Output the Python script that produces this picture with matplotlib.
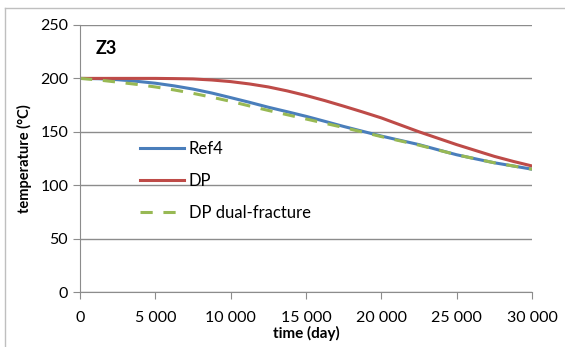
import numpy as np
import matplotlib as mpl
import matplotlib.pyplot as plt
from matplotlib.lines import Line2D
from matplotlib.ticker import FuncFormatter

mpl.rc('font', family=['Lato', 'DejaVu Sans'])

# time (day)
days = [0, 1250, 2500, 3750, 5000, 6250, 7500, 8750, 10000, 11250, 12500, 13750, 15000,
        16250, 17500, 18750, 20000, 21250, 22500, 23750, 25000, 26250, 27500, 28750, 30000]
# temperature (°C)
ref4 = [200, 199.7, 198.8, 197.3, 195.5, 193, 190, 186.3, 182, 177.6, 173, 168.8, 164.5,
        159.8, 155, 150.5, 146, 142, 138, 133.2, 128.5, 124.7, 121, 118, 115]
dp = [200, 200, 200, 200, 200, 199.8, 199.5, 198.5, 197, 194.8, 192, 188.3, 184,
      179.2, 174, 168.6, 163, 156.5, 150, 144, 138, 132.5, 127, 122.3, 118]
dp_dual = [200, 198.5, 196.5, 194.4, 192, 189.2, 186, 182.4, 178.5, 174.2, 170, 166, 162,
           158, 154, 149.8, 145.5, 141.5, 137.5, 133, 128.5, 124.7, 121, 118, 115]

fig = plt.figure(figsize=(5.65, 3.47), dpi=100)
ax = fig.add_axes([80 / 565, 55 / 347, 452 / 565, 267 / 347])

ax.plot(days, ref4, color='#4a7ebb', lw=2.2, label='Ref4')
ax.plot(days, dp, color='#be4b48', lw=2.2, label='DP')
ax.plot(days, dp_dual, color='#98b954', lw=2.2, ls=(0, (4, 3.5)), label='DP dual-fracture')

ax.set_xlim(0, 30000)
ax.set_ylim(0, 250)
ax.set_xticks(np.arange(0, 30001, 5000))
ax.set_yticks(np.arange(0, 251, 50))
ax.xaxis.set_major_formatter(FuncFormatter(lambda v, p: f'{int(v):,}'.replace(',', ' ')))

ax.yaxis.grid(True, color='#8c8c8c', lw=1)
ax.set_axisbelow(True)
for s in ['top', 'right']:
    ax.spines[s].set_visible(False)
for s in ['left', 'bottom']:
    ax.spines[s].set_color('#8c8c8c')
ax.tick_params(axis='both', colors='#8c8c8c', labelcolor='black', labelsize=11.5, length=5)
ax.tick_params(axis='x', pad=9)

ax.set_xlabel('time (day)', fontsize=11, fontweight='bold', labelpad=0)
ax.set_ylabel('temperature (°C)', fontsize=10.5, fontweight='bold', labelpad=6)

ax.text(0.035, 0.89, 'Z3', transform=ax.transAxes, fontsize=13, fontweight='bold')

ax.legend(loc='upper left', bbox_to_anchor=(0.1, 0.622), frameon=False, fontsize=12,
          handlelength=2.6, handletextpad=0.3, labelspacing=0.95)

# outer chart frame (only top and left edges visible)
fig.add_artist(Line2D([5 / 565, 5 / 565], [0, 1 - 8 / 347], color='#bfbfbf', lw=1))
fig.add_artist(Line2D([5 / 565, 1], [1 - 8 / 347, 1 - 8 / 347], color='#bfbfbf', lw=1))

fig.savefig('out.png', dpi=100)
